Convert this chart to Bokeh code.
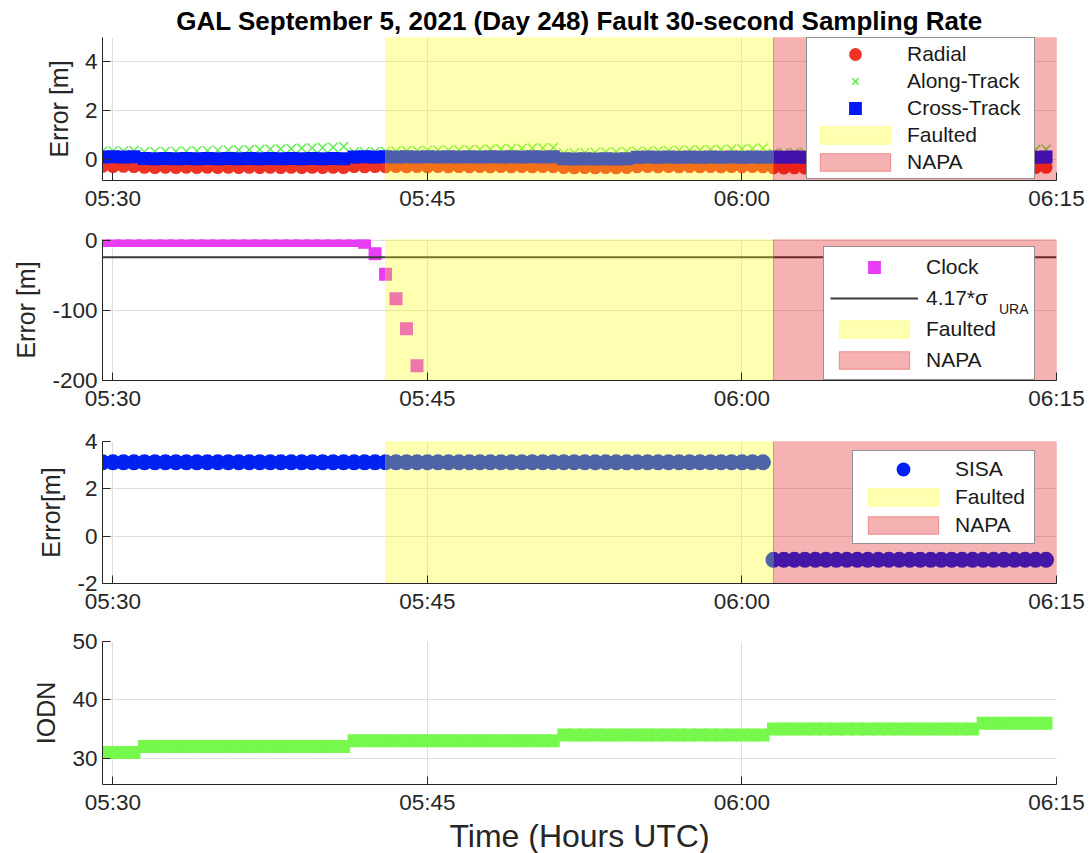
import pandas as pd
from bokeh.plotting import figure
from bokeh.layouts import column
from bokeh.models import (Range1d, FixedTicker, DatetimeTickFormatter, Legend,
                          LegendItem, PrintfTickFormatter)
from bokeh.embed import file_html
from bokeh.resources import INLINE

# ---------------- data ----------------
DAY = "2021-09-05 "
first_epoch = "05:29:30"
n_epochs = 91                      # 30-second sampling, 05:29:30 .. 06:14:30
x_limits = ["05:29:30", "06:15:00"]
x_tick_times = ["05:30", "05:45", "06:00", "06:15"]
fault_window = ["05:43:00", "06:01:30"]
napa_window = ["06:01:30", "06:15:00"]

radial = [-0.27, -0.28, -0.27, -0.28,
          -0.31, -0.32, -0.31, -0.32, -0.31, -0.32, -0.31, -0.32, -0.31, -0.32,
          -0.31, -0.32, -0.31, -0.32, -0.31, -0.32, -0.31, -0.32, -0.31, -0.32,
          -0.28, -0.29, -0.28, -0.29, -0.28, -0.29, -0.28, -0.29, -0.28, -0.29,
          -0.28, -0.29, -0.28, -0.29, -0.28, -0.29, -0.28, -0.29, -0.28, -0.29,
          -0.32, -0.33, -0.32, -0.33, -0.32, -0.33, -0.32,
          -0.29, -0.28, -0.29, -0.28, -0.29, -0.28, -0.29, -0.28, -0.29, -0.28,
          -0.29, -0.28, -0.29,
          -0.33, -0.34, -0.33, -0.34, -0.33, -0.34, -0.33, -0.34, -0.33, -0.34,
          -0.33, -0.34, -0.33, -0.34, -0.33, -0.34, -0.33, -0.34, -0.33, -0.34,
          -0.31, -0.32, -0.31, -0.32, -0.31, -0.32, -0.31]

along = [0.34, 0.36, 0.35, 0.37,
         0.32, 0.33, 0.34, 0.34, 0.35, 0.36, 0.37, 0.38, 0.39, 0.40,
         0.41, 0.42, 0.43, 0.44, 0.45, 0.47, 0.48, 0.49, 0.51, 0.54,
         0.31, 0.32, 0.33, 0.34, 0.35, 0.36, 0.37, 0.38, 0.39, 0.39,
         0.40, 0.41, 0.42, 0.43, 0.44, 0.45, 0.46, 0.47, 0.48, 0.49,
         0.27, 0.28, 0.29, 0.30, 0.31, 0.32, 0.33, 0.34, 0.35, 0.36,
         0.37, 0.38, 0.39, 0.40, 0.41, 0.42, 0.43, 0.44, 0.45, 0.47,
         0.27, 0.28, 0.29, 0.30, 0.30, 0.31, 0.32, 0.33, 0.34, 0.35,
         0.36, 0.37, 0.38, 0.39, 0.40, 0.41, 0.42, 0.43, 0.44, 0.45,
         0.31, 0.33, 0.35, 0.37, 0.39, 0.41, 0.43]

cross = [0.11, 0.12, 0.11, 0.12,
         0.05, 0.04, 0.05, 0.04, 0.05, 0.04, 0.05, 0.04, 0.05, 0.04,
         0.05, 0.04, 0.05, 0.04, 0.05, 0.04, 0.05, 0.04, 0.05, 0.04,
         0.11, 0.12, 0.11, 0.12, 0.11, 0.12, 0.11, 0.12, 0.11, 0.12,
         0.11, 0.12, 0.11, 0.12, 0.11, 0.12, 0.11, 0.12, 0.11, 0.12,
         0.04, 0.03, 0.04, 0.03, 0.04, 0.03, 0.04,
         0.10, 0.11, 0.10, 0.11, 0.10, 0.11, 0.10, 0.11, 0.10, 0.11,
         0.10, 0.11, 0.10,
         0.11, 0.10, 0.11, 0.10, 0.11, 0.10, 0.11, 0.10, 0.11, 0.10,
         0.11, 0.10, 0.11, 0.10, 0.11, 0.10, 0.11, 0.10, 0.11, 0.10,
         0.11, 0.10, 0.11, 0.10, 0.11, 0.10, 0.11]

clock = [0, 0, 0, 0, 0, 0, 0, 0, 0, 0,
         0, 0, 0, 0, 0, 0, 0, 0, 0, 0,
         0, 0, 0, 0, 0, -2.5, -19, -48, -83, -126, -179]
threshold = -24.0                  # 4.17*sigma_URA, drawn negative

sisa = [3.12, 3.12, 3.12, 3.12, 3.12, 3.12, 3.12, 3.12, 3.12, 3.12,
        3.12, 3.12, 3.12, 3.12, 3.12, 3.12, 3.12, 3.12, 3.12, 3.12,
        3.12, 3.12, 3.12, 3.12, 3.12, 3.12, 3.12, 3.12, 3.12, 3.12,
        3.12, 3.12, 3.12, 3.12, 3.12, 3.12, 3.12, 3.12, 3.12, 3.12,
        3.12, 3.12, 3.12, 3.12, 3.12, 3.12, 3.12, 3.12, 3.12, 3.12,
        3.12, 3.12, 3.12, 3.12, 3.12, 3.12, 3.12, 3.12, 3.12, 3.12,
        3.12, 3.12, 3.12, 3.12,
        -1, -1, -1, -1, -1, -1, -1, -1, -1, -1,
        -1, -1, -1, -1, -1, -1, -1, -1, -1, -1,
        -1, -1, -1, -1, -1, -1, -1]

iodn = [31, 31, 31, 31,
        32, 32, 32, 32, 32, 32, 32, 32, 32, 32, 32, 32, 32, 32, 32, 32, 32, 32, 32, 32,
        33, 33, 33, 33, 33, 33, 33, 33, 33, 33, 33, 33, 33, 33, 33, 33, 33, 33, 33, 33,
        34, 34, 34, 34, 34, 34, 34, 34, 34, 34, 34, 34, 34, 34, 34, 34, 34, 34, 34, 34,
        35, 35, 35, 35, 35, 35, 35, 35, 35, 35, 35, 35, 35, 35, 35, 35, 35, 35, 35, 35,
        36, 36, 36, 36, 36, 36, 36]

# ---------------- helpers ----------------
def ts(hms):
    return pd.Timestamp(DAY + hms)

times = pd.date_range(ts(first_epoch), periods=n_epochs, freq="30s")
x0, x1 = ts(x_limits[0]), ts(x_limits[1])
x_ticks = [ts(t).value / 1e6 for t in x_tick_times]

FONT = "Liberation Sans"
AX = "#262626"
GRID = "#dedede"

def make_fig(ylim, yticks, ylabel, frame_h, top, bottom, xlabel=None, title=None):
    p = figure(x_axis_type="datetime", frame_width=954, frame_height=frame_h,
               min_border_left=102, min_border_right=33, min_border_top=top,
               min_border_bottom=bottom, x_range=Range1d(x0, x1),
               y_range=Range1d(ylim[0], ylim[1]), output_backend="svg",
               toolbar_location=None, background_fill_color="white",
               border_fill_color="white")
    p.outline_line_color = None
    p.xaxis.ticker = FixedTicker(ticks=x_ticks)
    p.xaxis.formatter = DatetimeTickFormatter(minsec="%H:%M", minutes="%H:%M",
                                              hourmin="%H:%M", hours="%H:%M")
    p.yaxis.ticker = FixedTicker(ticks=yticks)
    p.yaxis.formatter = PrintfTickFormatter(format="%d")
    for ax in (p.xaxis[0], p.yaxis[0]):
        ax.axis_line_color = AX
        ax.axis_line_width = 1
        ax.major_tick_line_color = AX
        ax.major_tick_in = 8
        ax.major_tick_out = 0
        ax.minor_tick_line_color = None
        ax.major_label_text_font = FONT
        ax.major_label_text_font_size = "22.5px"
        ax.major_label_text_color = AX
        ax.axis_label_text_font = FONT
        ax.axis_label_text_font_size = "25px"
        ax.axis_label_text_font_style = "normal"
        ax.axis_label_text_color = AX
    p.xaxis.major_label_standoff = 5
    p.yaxis.major_label_standoff = 5
    p.yaxis.axis_label = ylabel
    p.yaxis.axis_label_standoff = 9
    if xlabel:
        p.xaxis.axis_label = xlabel
        p.xaxis.axis_label_standoff = 0
        p.xaxis.axis_label_text_font_size = "32px"
    p.xgrid.grid_line_color = GRID
    p.ygrid.grid_line_color = GRID
    if title:
        p.title.text = title
        p.title.align = "center"
        p.title.text_font = FONT
        p.title.text_font_size = "26px"
        p.title.text_font_style = "bold"
        p.title.text_color = "black"
        p.title.standoff = 3
    return p

def add_regions(p, ylim):
    f = p.quad(left=[ts(fault_window[0])], right=[ts(fault_window[1])],
               bottom=[ylim[0]], top=[ylim[1]], fill_color="#ffff00",
               fill_alpha=0.3, line_color="#ffff00", line_alpha=0.3)
    n = p.quad(left=[ts(napa_window[0])], right=[ts(napa_window[1])],
               bottom=[ylim[0]], top=[ylim[1]], fill_color="#e00000",
               fill_alpha=0.3, line_color="#e00000", line_alpha=0.35)
    return f, n

def make_legend(items, loc, label_h, label_w, spacing=4, padding=6):
    return Legend(items=items, location=loc, glyph_width=88, glyph_height=22,
                  label_height=label_h, label_width=label_w, label_standoff=8,
                  spacing=spacing, padding=padding, margin=0,
                  label_text_font=FONT, label_text_font_size="21px",
                  label_text_color="#1a1a1a", border_line_color=AX,
                  border_line_width=1, background_fill_color="white",
                  background_fill_alpha=1.0)

RED = "#ee3224"
GREEN_X = "#66ee55"
BLUE = "#0018f5"
MAGENTA = "#e83cf5"
SISA_BLUE = "#0022f0"
IODN_GREEN = "#76f84c"

# ---------------- panel 1 ----------------
yl1 = (-0.85, 5)
p1 = make_fig(yl1, [0, 2, 4], "Error [m]", 143, 37, 40,
              title="GAL September 5, 2021 (Day 248) Fault 30-second Sampling Rate")
r_rad = p1.scatter(times, radial, marker="circle", size=9, line_width=4,
                   fill_color=RED, line_color=RED)
r_alo = p1.scatter(times, along, marker="x", size=13, line_width=1.5,
                   line_color=GREEN_X)
r_crs = p1.scatter(times, cross, marker="square", size=9, line_width=4,
                   line_join="miter", fill_color=BLUE, line_color=BLUE)
f1, n1 = add_regions(p1, yl1)
leg1 = make_legend([LegendItem(label="Radial", renderers=[r_rad]),
                    LegendItem(label="Along-Track", renderers=[r_alo]),
                    LegendItem(label="Cross-Track", renderers=[r_crs]),
                    LegendItem(label="Faulted", renderers=[f1]),
                    LegendItem(label="NAPA", renderers=[n1])],
                   (704, 1), 24, 123, spacing=3, padding=4)
p1.add_layout(leg1, "center")

# ---------------- panel 2 ----------------
yl2 = (-200, 1.5)
p2 = make_fig(yl2, [-200, -100, 0], "Error [m]", 141, 19, 40)
r_clk = p2.scatter(times[:len(clock)], clock, marker="square", size=9,
                   line_width=4, line_join="miter", fill_color=MAGENTA,
                   line_color=MAGENTA)
r_thr = p2.line([x0, x1], [threshold, threshold], line_color="#3a3a3a",
                line_width=2)
f2, n2 = add_regions(p2, yl2)
leg2 = make_legend([LegendItem(label="Clock", renderers=[r_clk]),
                    LegendItem(label="4.17*σ", renderers=[r_thr]),
                    LegendItem(label="Faulted", renderers=[f2]),
                    LegendItem(label="NAPA", renderers=[n2])],
                   (721, 0), 27, 102)
p2.add_layout(leg2, "center")
# subscript "URA" of the sigma label, as a frameless overlay legend entry
r_none = p2.line(x=[], y=[], line_alpha=0)
sub = Legend(items=[LegendItem(label="URA", renderers=[r_none])],
             location=(896, 62), glyph_width=1, glyph_height=1,
             label_height=18, label_width=10, label_standoff=0, spacing=0,
             padding=0, margin=0, label_text_font=FONT,
             label_text_font_size="14px", label_text_color="#1a1a1a",
             border_line_alpha=0, background_fill_alpha=0)
p2.add_layout(sub, "center")

# ---------------- panel 3 ----------------
yl3 = (-2, 4)
p3 = make_fig(yl3, [-2, 0, 2, 4], "Error[m]", 142, 21, 40)
r_sisa = p3.scatter(times, sisa, marker="circle", size=11, line_width=5,
                    fill_color=SISA_BLUE, line_color=SISA_BLUE)
f3, n3 = add_regions(p3, yl3)
leg3 = make_legend([LegendItem(label="SISA", renderers=[r_sisa]),
                    LegendItem(label="Faulted", renderers=[f3]),
                    LegendItem(label="NAPA", renderers=[n3])],
                   (750, 39), 24, 73)
p3.add_layout(leg3, "center")

# ---------------- panel 4 ----------------
yl4 = (25.5, 50)
p4 = make_fig(yl4, [30, 40, 50], "IODN", 143, 18, 69, xlabel="Time (Hours UTC)")
p4.scatter(times, iodn, marker="square", size=9, line_width=4, line_join="miter",
           fill_color=IODN_GREEN, line_color=IODN_GREEN)

layout = column(p1, p2, p3, p4, spacing=0)
open("out.html", "w").write(file_html(layout, INLINE))
